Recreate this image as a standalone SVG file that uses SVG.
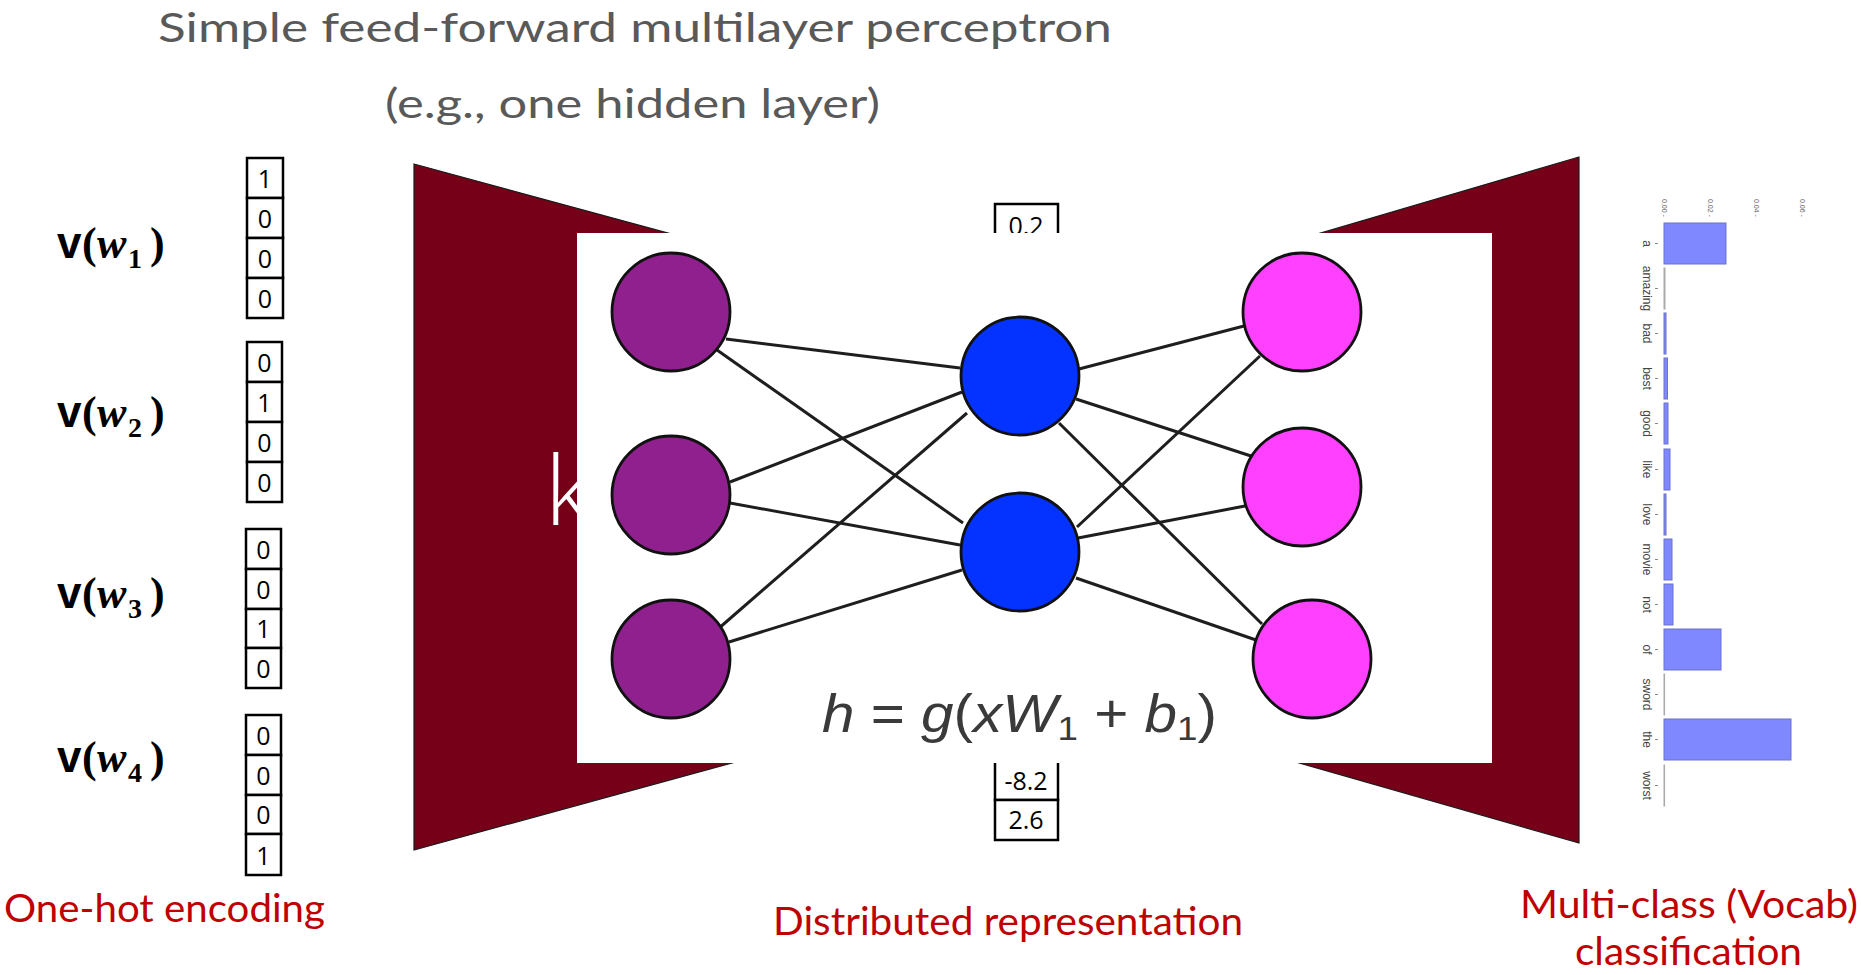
<svg xmlns="http://www.w3.org/2000/svg" width="1861" height="975" viewBox="0 0 1861 975">
<style>
.title{font-family:Lato,"Open Sans","Liberation Sans",sans-serif;fill:#595959;font-size:41px}
.red{font-family:Lato,"Open Sans","Liberation Sans",sans-serif;fill:#C00000;font-size:39px}
.cell{fill:#fff;stroke:#000;stroke-width:2.5}
.dig{font-family:"Open Sans","Liberation Sans",sans-serif;font-size:25px;fill:#000;text-anchor:middle}
.vl{font-family:"Liberation Serif",serif;font-size:44px;fill:#000;font-weight:bold}
.vv{font-family:"Liberation Sans",sans-serif}
.wi{font-style:italic}
.sub{font-size:28px}
.trap{fill:#770019;stroke:#1a1a1a;stroke-width:1.2}
.edge{stroke:#1e1e1e;stroke-width:3;fill:none}
.node{stroke:#111;stroke-width:2.8}
.bar{fill:#8088FF;stroke:#6b72c9;stroke-width:1}
.blab{font-family:"Liberation Sans",sans-serif;font-size:12px;fill:#444;text-anchor:middle}
.tick{font-family:"Liberation Sans",sans-serif;font-size:7px;fill:#666}
.tk{stroke:#888;stroke-width:1}
.eq{font-family:"Liberation Sans",sans-serif;font-size:54px;fill:#3a3a3a}
</style>

<g id="title">
<text class="title" x="158" y="42" textLength="954" lengthAdjust="spacingAndGlyphs">Simple feed-forward multilayer perceptron</text>
<text class="title" x="385" y="118" textLength="495" lengthAdjust="spacingAndGlyphs">(e.g., one hidden layer)</text>
</g>

<g id="onehot-labels">
<text class="vl" x="57" y="258"><tspan class="vv">v</tspan><tspan x="82">(</tspan><tspan class="wi" x="97">w</tspan><tspan class="sub" x="128" dy="10">1</tspan><tspan x="150" dy="-10">)</tspan></text>
<text class="vl" x="57" y="427"><tspan class="vv">v</tspan><tspan x="82">(</tspan><tspan class="wi" x="97">w</tspan><tspan class="sub" x="128" dy="10">2</tspan><tspan x="150" dy="-10">)</tspan></text>
<text class="vl" x="57" y="608"><tspan class="vv">v</tspan><tspan x="82">(</tspan><tspan class="wi" x="97">w</tspan><tspan class="sub" x="128" dy="10">3</tspan><tspan x="150" dy="-10">)</tspan></text>
<text class="vl" x="57" y="772"><tspan class="vv">v</tspan><tspan x="82">(</tspan><tspan class="wi" x="97">w</tspan><tspan class="sub" x="128" dy="10">4</tspan><tspan x="150" dy="-10">)</tspan></text>
</g>

<g id="onehot-vec1">
<rect class="cell" x="247" y="158" width="36" height="40"/><rect class="cell" x="247" y="198" width="36" height="40"/><rect class="cell" x="247" y="238" width="36" height="40"/><rect class="cell" x="247" y="278" width="36" height="40"/>
<text class="dig" x="265" y="188">1</text><text class="dig" x="265" y="228">0</text><text class="dig" x="265" y="268">0</text><text class="dig" x="265" y="308">0</text>
</g>
<g id="onehot-vec2">
<rect class="cell" x="247" y="342" width="35" height="40"/><rect class="cell" x="247" y="382" width="35" height="40"/><rect class="cell" x="247" y="422" width="35" height="40"/><rect class="cell" x="247" y="462" width="35" height="40"/>
<text class="dig" x="264.5" y="372">0</text><text class="dig" x="264.5" y="412">1</text><text class="dig" x="264.5" y="452">0</text><text class="dig" x="264.5" y="492">0</text>
</g>
<g id="onehot-vec3">
<rect class="cell" x="246" y="529" width="35" height="40"/><rect class="cell" x="246" y="569" width="35" height="40"/><rect class="cell" x="246" y="609" width="35" height="39"/><rect class="cell" x="246" y="648" width="35" height="40"/>
<text class="dig" x="263.5" y="559">0</text><text class="dig" x="263.5" y="599">0</text><text class="dig" x="263.5" y="638">1</text><text class="dig" x="263.5" y="678">0</text>
</g>
<g id="onehot-vec4">
<rect class="cell" x="246" y="715" width="35" height="40"/><rect class="cell" x="246" y="755" width="35" height="40"/><rect class="cell" x="246" y="795" width="35" height="39"/><rect class="cell" x="246" y="834" width="35" height="41"/>
<text class="dig" x="263.5" y="745">0</text><text class="dig" x="263.5" y="785">0</text><text class="dig" x="263.5" y="824">0</text><text class="dig" x="263.5" y="865">1</text>
</g>

<g id="encoder">
<polygon class="trap" points="414,164 900,296 900,717 414,850"/>
<text x="545" y="525" font-family="Open Sans, Liberation Sans, sans-serif" font-size="96" font-weight="300" fill="#fff">k</text>
</g>
<g id="decoder">
<polygon class="trap" points="1579,157 1100,298 1100,706 1579,843"/>
</g>

<g id="hidden-vector">
<rect class="cell" x="995" y="204" width="63" height="40"/>
<text class="dig" x="1026" y="235">0.2</text>
<rect class="cell" x="995" y="740" width="63" height="60"/>
<rect class="cell" x="995" y="800" width="63" height="40"/>
<text class="dig" x="1026" y="790">-8.2</text>
<text class="dig" x="1026" y="829">2.6</text>
</g>

<g id="network-panel">
<rect x="577" y="233" width="915" height="530" fill="#fff"/>
</g>

<g id="connectors">
<line class="edge" x1="726" y1="339" x2="960" y2="368"/>
<line class="edge" x1="717" y1="350" x2="963" y2="523"/>
<line class="edge" x1="730" y1="482" x2="962" y2="392"/>
<line class="edge" x1="730" y1="503" x2="960" y2="545"/>
<line class="edge" x1="718" y1="629" x2="967" y2="413"/>
<line class="edge" x1="729" y1="642" x2="962" y2="570"/>
<line class="edge" x1="1079" y1="369" x2="1244" y2="326"/>
<line class="edge" x1="1076" y1="399" x2="1251" y2="456"/>
<line class="edge" x1="1059" y1="423" x2="1262" y2="624"/>
<line class="edge" x1="1077" y1="527" x2="1260" y2="356"/>
<line class="edge" x1="1078" y1="538" x2="1245" y2="506"/>
<line class="edge" x1="1076" y1="578" x2="1256" y2="640"/>
</g>

<g id="input-1"><circle class="node" cx="671" cy="312" r="59" fill="#91208F"/></g>
<g id="input-2"><circle class="node" cx="671" cy="495" r="59" fill="#91208F"/></g>
<g id="input-3"><circle class="node" cx="671" cy="659" r="59" fill="#91208F"/></g>
<g id="hidden-1"><circle class="node" cx="1020" cy="376" r="59" fill="#0433FF"/></g>
<g id="hidden-2"><circle class="node" cx="1020" cy="552" r="59" fill="#0433FF"/></g>
<g id="output-1"><circle class="node" cx="1302" cy="312" r="59" fill="#FF40FF"/></g>
<g id="output-2"><circle class="node" cx="1302" cy="487" r="59" fill="#FF40FF"/></g>
<g id="output-3"><circle class="node" cx="1312" cy="659" r="59" fill="#FF40FF"/></g>

<g id="equation">
<text class="eq" x="822" y="732" textLength="395" lengthAdjust="spacingAndGlyphs"><tspan font-style="italic">h</tspan> = <tspan font-style="italic">g</tspan>(<tspan font-style="italic">xW</tspan><tspan font-size="34" dy="8">1</tspan><tspan dy="-8"> + </tspan><tspan font-style="italic">b</tspan><tspan font-size="34" dy="8">1</tspan><tspan dy="-8">)</tspan></text>
</g>

<g id="bar-chart">
<text class="tick" transform="translate(1662,199) rotate(90)">0.00 -</text>
<text class="tick" transform="translate(1708,199) rotate(90)">0.02 -</text>
<text class="tick" transform="translate(1754,199) rotate(90)">0.04 -</text>
<text class="tick" transform="translate(1800,199) rotate(90)">0.06 -</text>
<rect class="bar" x="1664" y="223" width="62" height="41"/>
<rect class="bar" x="1664" y="268" width="1" height="41" style="fill:#aaa;stroke:#aaa"/>
<rect class="bar" x="1664" y="313" width="2" height="41"/>
<rect class="bar" x="1664" y="358" width="3.5" height="41"/>
<rect class="bar" x="1664" y="403" width="4" height="41"/>
<rect class="bar" x="1664" y="449" width="6" height="41"/>
<rect class="bar" x="1664" y="494" width="2" height="41"/>
<rect class="bar" x="1664" y="539" width="8" height="41"/>
<rect class="bar" x="1664" y="584" width="9" height="41"/>
<rect class="bar" x="1664" y="629" width="57" height="41"/>
<rect class="bar" x="1664" y="674" width="0.6" height="41" style="fill:#aaa;stroke:#aaa"/>
<rect class="bar" x="1664" y="719" width="127" height="41"/>
<rect class="bar" x="1664" y="765" width="0.6" height="41" style="fill:#aaa;stroke:#aaa"/>
<g class="tk">
<line x1="1655" y1="243.5" x2="1658" y2="243.5"/><line x1="1655" y1="288.5" x2="1658" y2="288.5"/><line x1="1655" y1="333.5" x2="1658" y2="333.5"/><line x1="1655" y1="378.5" x2="1658" y2="378.5"/><line x1="1655" y1="423.5" x2="1658" y2="423.5"/><line x1="1655" y1="469.5" x2="1658" y2="469.5"/><line x1="1655" y1="514.5" x2="1658" y2="514.5"/><line x1="1655" y1="559.5" x2="1658" y2="559.5"/><line x1="1655" y1="604.5" x2="1658" y2="604.5"/><line x1="1655" y1="649.5" x2="1658" y2="649.5"/><line x1="1655" y1="694.5" x2="1658" y2="694.5"/><line x1="1655" y1="739.5" x2="1658" y2="739.5"/><line x1="1655" y1="785.5" x2="1658" y2="785.5"/>
</g>
<text class="blab" transform="translate(1643,243.5) rotate(90)">a</text>
<text class="blab" transform="translate(1643,288.5) rotate(90)">amazing</text>
<text class="blab" transform="translate(1643,333.5) rotate(90)">bad</text>
<text class="blab" transform="translate(1643,378.5) rotate(90)">best</text>
<text class="blab" transform="translate(1643,423.5) rotate(90)">good</text>
<text class="blab" transform="translate(1643,469.5) rotate(90)">like</text>
<text class="blab" transform="translate(1643,514.5) rotate(90)">love</text>
<text class="blab" transform="translate(1643,559.5) rotate(90)">movie</text>
<text class="blab" transform="translate(1643,604.5) rotate(90)">not</text>
<text class="blab" transform="translate(1643,649.5) rotate(90)">of</text>
<text class="blab" transform="translate(1643,694.5) rotate(90)">sword</text>
<text class="blab" transform="translate(1643,739.5) rotate(90)">the</text>
<text class="blab" transform="translate(1643,785.5) rotate(90)">worst</text>
</g>

<g id="captions">
<text class="red" x="4" y="922" textLength="321" lengthAdjust="spacingAndGlyphs">One-hot encoding</text>
<text class="red" x="773" y="935" textLength="470" lengthAdjust="spacingAndGlyphs">Distributed representation</text>
<text class="red" x="1520" y="918" textLength="338" lengthAdjust="spacingAndGlyphs">Multi-class (Vocab)</text>
<text class="red" x="1575" y="965" textLength="227" lengthAdjust="spacingAndGlyphs">classification</text>
</g>
</svg>
